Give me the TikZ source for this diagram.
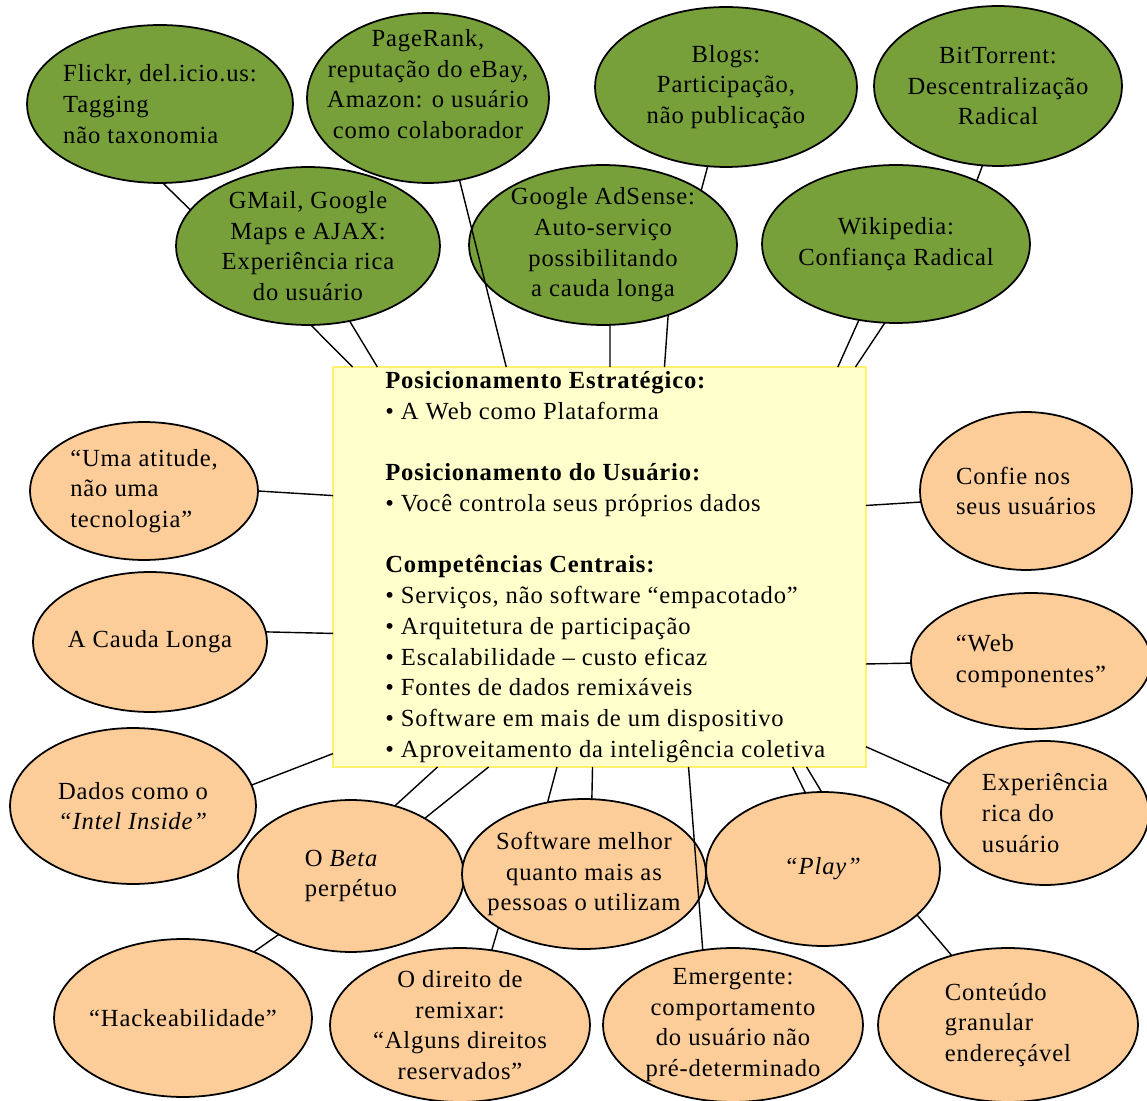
\documentclass[tikz,border=0pt]{standalone}
\usepackage{fontspec}
\setmainfont{Liberation Serif}[LetterSpace=3.5]
\usepackage{tikz}
\usetikzlibrary{shapes.geometric}

\definecolor{leaf}{RGB}{119,160,58}
\definecolor{peach}{RGB}{252,204,153}
\definecolor{cream}{RGB}{255,255,204}
\definecolor{straw}{RGB}{255,240,110}

\begin{document}
\begin{tikzpicture}[x=0.02cm, y=-0.02cm,
		oval/.style 2 args={ellipse, draw=black, line width=1pt, inner sep=0pt, outer sep=0pt, minimum width=#1*0.04cm, minimum height=#2*0.04cm},
		meme/.style 2 args={oval={#1}{#2}, fill=leaf},
		idea/.style 2 args={oval={#1}{#2}, fill=peach},
		lbl/.style={font=\fontsize{14}{17.5}\selectfont, inner sep=0pt, align=center},
		link/.style={draw=black, line width=0.8pt}]
		
		\useasboundingbox (0,0) rectangle (1147,1101);
		
		% top row
		\node[meme={133}{79}] (flickr) at (160,104) {};
		\node[meme={121}{85}] (pagerank) at (428,98) {};
		\node[meme={131}{80}] (blogs) at (726,87) {};
		\node[meme={124}{80}] (bittorrent) at (998,86) {};
		
		\node[meme={132}{79}] (gmail) at (308,246) {};
		\node[meme={134}{80}] (adsense) at (603,245) {};
		\node[meme={134}{79}] (wikipedia) at (896,244) {};
		
		\node[lbl, align=left] (flickr-t) at (flickr) {Flickr, del.icio.us:\\Tagging\\não taxonomia};
		\node[lbl] (pagerank-t) at (428,84) {PageRank,\\reputação do eBay,\\Amazon: o usuário\\como colaborador};
		\node[lbl] (blogs-t) at (blogs) {Blogs:\\Participação,\\não publicação};
		\node[lbl] (bittorrent-t) at (bittorrent) {BitTorrent:\\Descentralização\\Radical};
		\node[lbl] (gmail-t) at (gmail) {GMail, Google\\Maps e AJAX:\\Experiência rica\\do usuário};
		\node[lbl] (adsense-t) at (adsense) {Google AdSense:\\Auto-serviço\\possibilitando\\a cauda longa};
		\node[lbl] (wikipedia-t) at (wikipedia) {Wikipedia:\\Confiança Radical};
		
		% centre box
		\node[rectangle, draw=straw, line width=1pt, fill=cream, minimum width=10.66cm, minimum height=8cm, inner sep=0pt, outer sep=0pt] (core) at (599.5,567) {};
		\node[lbl, align=left, anchor=west] (core-t) at (385,567) {\textbf{Posicionamento Estratégico:}\\
			• A Web como Plataforma\\[17.5pt]
			\textbf{Posicionamento do Usuário:}\\
			• Você controla seus próprios dados\\[17.5pt]
			\textbf{Competências Centrais:}\\
			• Serviços, não software “empacotado”\\
			• Arquitetura de participação\\
			• Escalabilidade – custo eficaz\\
			• Fontes de dados remixáveis\\
			• Software em mais de um dispositivo\\
			• Aproveitamento da inteligência coletiva};
		
		% side and bottom
		\node[idea={114}{69}] (atitude) at (144,491) {};
		\node[idea={117}{70}] (cauda) at (150,642) {};
		\node[idea={123}{78}] (dados) at (133,806) {};
		\node[idea={106}{79}] (confie) at (1026,491) {};
		\node[idea={120}{68}] (webcomp) at (1031,661) {};
		\node[idea={104}{72}] (exper) at (1045,813) {};
		\node[idea={113}{76}] (beta) at (351,876) {};
		\node[idea={122}{75}] (softw) at (584,874) {};
		\node[idea={117}{77}] (play) at (823,869) {};
		\node[idea={129}{79}] (hack) at (183,1018) {};
		\node[idea={130}{77}] (direito) at (460,1025) {};
		\node[idea={130}{77}] (emerg) at (733,1025) {};
		\node[idea={130}{77}] (conteudo) at (1008,1025) {};
		
		\node[lbl, align=left] (atitude-t) at (atitude) {“Uma atitude,\\não uma\\tecnologia”};
		\node[lbl] (cauda-t) at (cauda) {A Cauda Longa};
		\node[lbl] (dados-t) at (dados) {Dados como o\\\textit{“Intel Inside”}};
		\node[lbl, align=left] (confie-t) at (confie) {Confie nos\\seus usuários};
		\node[lbl, align=left] (webcomp-t) at (webcomp) {“Web\\componentes”};
		\node[lbl, align=left] (exper-t) at (exper) {Experiência\\rica do\\usuário};
		\node[lbl, align=left] (beta-t) at (beta) {O \textit{Beta}\\perpétuo};
		\node[lbl] (softw-t) at (softw) {Software melhor\\quanto mais as\\pessoas o utilizam};
		\node[lbl] (play-t) at (play) {\textit{“Play”}};
		\node[lbl] (hack-t) at (hack) {“Hackeabilidade”};
		\node[lbl] (direito-t) at (direito) {O direito de\\remixar:\\“Alguns direitos\\reservados”};
		\node[lbl] (emerg-t) at (emerg) {Emergente:\\comportamento\\do usuário não\\pré-determinado};
		\node[lbl, align=left] (conteudo-t) at (conteudo) {Conteúdo\\granular\\endereçável};
		
		% connectors
		\draw[link] (flickr.-88) -- (gmail.163);
		\draw[link] (gmail.-88) -- (core.141);
		\draw[link] (gmail.-61) -- (core.138);
		\draw[link] (pagerank.-69) -- (core.115);
		\draw[link] (blogs.-103) -- (adsense.29);
		\draw[link] (adsense.-85) -- (core.87);
		\draw[link] (adsense.-47) -- (core.72);
		\draw[link] (bittorrent.-101) -- (wikipedia.38);
		\draw[link] (wikipedia.-116) -- (core.40);
		\draw[link] (wikipedia.-98) -- (core.38);
		
		\draw[link] (atitude.0) -- (core.165);
		\draw[link] (cauda.5) -- (core.194);
		\draw[link] (dados.10) -- (core.215);
		\draw[link] (confie.186) -- (core.13);
		\draw[link] (webcomp.181) -- (core.-20);
		\draw[link] (exper.163) -- (core.-34);
		
		\draw[link] (core.-129) -- (beta.58);
		\draw[link] (core.-119) -- (beta.38);
		\draw[link] (core.-102) -- (softw.117);
		\draw[link] (core.-92) -- (softw.84);
		\draw[link] (core.-66) -- (emerg.112);
		\draw[link] (core.-46) -- (play.103);
		\draw[link] (core.-44) -- (play.91);
		\draw[link] (softw.-148) -- (direito.67);
		\draw[link] (beta.-141) -- (hack.43);
		\draw[link] (play.-26) -- (conteudo.129);
		
\end{tikzpicture}
\end{document}
